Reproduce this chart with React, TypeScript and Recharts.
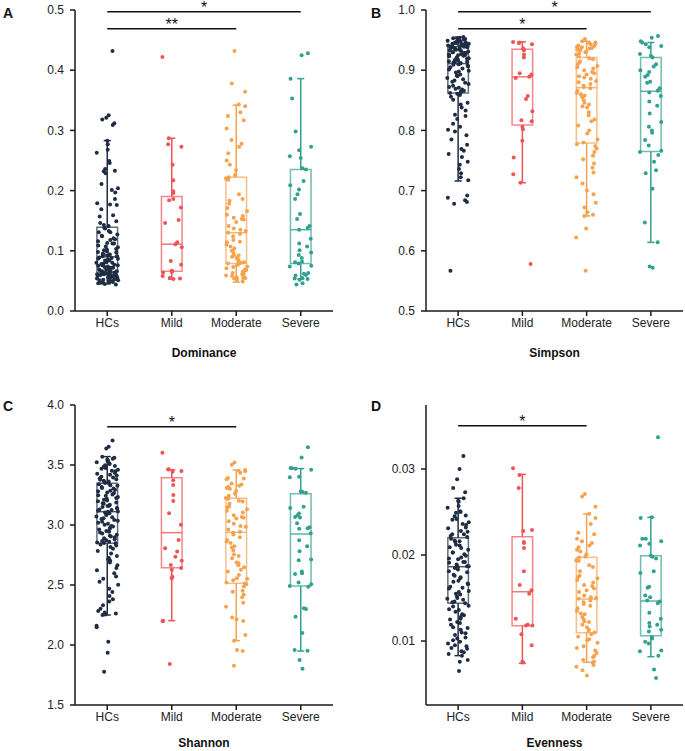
import {
  ComposedChart,
  Scatter,
  XAxis,
  YAxis,
  ReferenceArea,
  ReferenceLine,
} from "recharts";

const GROUPS = ["HCs", "Mild", "Moderate", "Severe"];
const COLORS = ["#1F2D44", "#EF5456", "#F7A24F", "#33A190"];
const AXIS = "#1a1a1a";
const FONT = "'Liberation Sans', Arial, sans-serif";

// Dominance
const domHCs = [0.432, 0.325, 0.321, 0.318, 0.312, 0.309, 0.283, 0.277, 0.268, 0.263, 0.249, 0.246, 0.236, 0.233, 0.232, 0.229, 0.211, 0.204, 0.201, 0.197, 0.186, 0.179, 0.177, 0.176, 0.169, 0.159, 0.157, 0.149, 0.146, 0.143, 0.141, 0.138, 0.137, 0.133, 0.131, 0.131, 0.127, 0.125, 0.124, 0.121, 0.119, 0.118, 0.116, 0.113, 0.112, 0.112, 0.109, 0.107, 0.106, 0.103, 0.102, 0.101, 0.099, 0.098, 0.097, 0.095, 0.094, 0.094, 0.093, 0.092, 0.091, 0.091, 0.090, 0.089, 0.088, 0.087, 0.087, 0.086, 0.084, 0.084, 0.083, 0.081, 0.080, 0.080, 0.079, 0.078, 0.077, 0.076, 0.076, 0.075, 0.074, 0.073, 0.072, 0.072, 0.071, 0.070, 0.069, 0.069, 0.068, 0.067, 0.066, 0.066, 0.065, 0.065, 0.064, 0.064, 0.063, 0.063, 0.062, 0.062, 0.061, 0.061, 0.060, 0.060, 0.059, 0.059, 0.058, 0.058, 0.057, 0.057, 0.056, 0.056, 0.056, 0.055, 0.055, 0.054, 0.054, 0.053, 0.053, 0.052, 0.051, 0.051, 0.050, 0.050, 0.049, 0.048, 0.048, 0.047, 0.047, 0.046, 0.045, 0.044];
const domMild = [0.422, 0.287, 0.277, 0.273, 0.243, 0.217, 0.199, 0.196, 0.186, 0.184, 0.172, 0.151, 0.146, 0.114, 0.111, 0.106, 0.083, 0.077, 0.067, 0.066, 0.065, 0.064, 0.058, 0.055, 0.054, 0.053];
const domModerate = [0.432, 0.378, 0.364, 0.343, 0.340, 0.330, 0.324, 0.317, 0.303, 0.284, 0.278, 0.273, 0.262, 0.250, 0.243, 0.234, 0.226, 0.222, 0.220, 0.218, 0.194, 0.186, 0.183, 0.178, 0.171, 0.166, 0.160, 0.158, 0.155, 0.153, 0.152, 0.148, 0.141, 0.137, 0.135, 0.133, 0.130, 0.128, 0.124, 0.118, 0.115, 0.114, 0.110, 0.107, 0.104, 0.100, 0.097, 0.093, 0.092, 0.090, 0.088, 0.085, 0.083, 0.081, 0.080, 0.079, 0.078, 0.076, 0.074, 0.073, 0.071, 0.069, 0.068, 0.066, 0.065, 0.063, 0.062, 0.061, 0.060, 0.059, 0.058, 0.056, 0.055, 0.055, 0.054, 0.052, 0.049];
const domSevere = [0.428, 0.425, 0.386, 0.353, 0.298, 0.273, 0.267, 0.257, 0.254, 0.237, 0.235, 0.216, 0.209, 0.202, 0.194, 0.186, 0.161, 0.153, 0.141, 0.138, 0.135, 0.120, 0.112, 0.107, 0.101, 0.097, 0.093, 0.088, 0.082, 0.081, 0.079, 0.075, 0.074, 0.063, 0.062, 0.060, 0.059, 0.055, 0.054, 0.053, 0.052, 0.046, 0.044];
// [low whisker, q1, median, q3, high whisker]
const domBox = [
  [0.045, 0.063, 0.090, 0.139, 0.283],
  [0.053, 0.066, 0.111, 0.190, 0.287],
  [0.048, 0.079, 0.130, 0.222, 0.342],
  [0.053, 0.079, 0.135, 0.235, 0.386],
];

// Simpson
const simHCs = [0.955, 0.954, 0.953, 0.953, 0.952, 0.951, 0.951, 0.950, 0.949, 0.949, 0.948, 0.947, 0.947, 0.946, 0.945, 0.945, 0.944, 0.944, 0.943, 0.942, 0.942, 0.941, 0.941, 0.940, 0.940, 0.939, 0.939, 0.938, 0.937, 0.937, 0.936, 0.935, 0.934, 0.934, 0.933, 0.932, 0.931, 0.930, 0.930, 0.929, 0.928, 0.927, 0.926, 0.925, 0.925, 0.924, 0.923, 0.921, 0.920, 0.919, 0.918, 0.917, 0.916, 0.915, 0.914, 0.913, 0.913, 0.912, 0.911, 0.910, 0.909, 0.908, 0.906, 0.905, 0.903, 0.901, 0.899, 0.898, 0.896, 0.893, 0.891, 0.890, 0.887, 0.885, 0.883, 0.881, 0.879, 0.877, 0.874, 0.872, 0.871, 0.869, 0.868, 0.866, 0.864, 0.863, 0.862, 0.861, 0.859, 0.856, 0.851, 0.846, 0.843, 0.838, 0.833, 0.826, 0.824, 0.819, 0.811, 0.806, 0.801, 0.798, 0.792, 0.785, 0.776, 0.769, 0.766, 0.761, 0.756, 0.748, 0.743, 0.736, 0.729, 0.722, 0.717, 0.692, 0.688, 0.684, 0.681, 0.678, 0.567];
const simMild = [0.947, 0.946, 0.945, 0.943, 0.936, 0.934, 0.933, 0.926, 0.921, 0.895, 0.893, 0.889, 0.887, 0.857, 0.852, 0.832, 0.817, 0.815, 0.806, 0.802, 0.783, 0.755, 0.727, 0.713, 0.578];
const simModerate = [0.952, 0.948, 0.946, 0.945, 0.944, 0.943, 0.941, 0.940, 0.939, 0.938, 0.937, 0.936, 0.935, 0.934, 0.933, 0.931, 0.930, 0.928, 0.926, 0.923, 0.920, 0.918, 0.915, 0.913, 0.910, 0.907, 0.905, 0.903, 0.900, 0.897, 0.895, 0.893, 0.890, 0.888, 0.886, 0.882, 0.880, 0.877, 0.874, 0.872, 0.870, 0.866, 0.862, 0.860, 0.858, 0.855, 0.850, 0.846, 0.843, 0.840, 0.838, 0.830, 0.825, 0.818, 0.815, 0.808, 0.800, 0.795, 0.785, 0.780, 0.777, 0.774, 0.770, 0.764, 0.758, 0.752, 0.745, 0.738, 0.730, 0.722, 0.712, 0.700, 0.694, 0.680, 0.672, 0.664, 0.660, 0.658, 0.637, 0.622, 0.567];
const simSevere = [0.957, 0.954, 0.948, 0.946, 0.943, 0.940, 0.938, 0.927, 0.924, 0.921, 0.910, 0.906, 0.900, 0.897, 0.892, 0.889, 0.881, 0.879, 0.870, 0.866, 0.863, 0.857, 0.848, 0.841, 0.828, 0.814, 0.806, 0.800, 0.796, 0.784, 0.775, 0.766, 0.764, 0.759, 0.748, 0.734, 0.729, 0.703, 0.647, 0.614, 0.574, 0.572];
const simBox = [
  [0.716, 0.862, 0.911, 0.939, 0.955],
  [0.713, 0.809, 0.889, 0.935, 0.947],
  [0.658, 0.779, 0.871, 0.921, 0.948],
  [0.614, 0.765, 0.865, 0.921, 0.946],
];

// Shannon
const shaHCs = [3.704, 3.652, 3.637, 3.568, 3.561, 3.552, 3.546, 3.537, 3.531, 3.522, 3.514, 3.509, 3.497, 3.491, 3.486, 3.474, 3.468, 3.461, 3.452, 3.447, 3.433, 3.428, 3.419, 3.413, 3.402, 3.396, 3.388, 3.381, 3.377, 3.369, 3.362, 3.358, 3.351, 3.348, 3.339, 3.331, 3.327, 3.316, 3.309, 3.304, 3.293, 3.286, 3.281, 3.271, 3.266, 3.255, 3.248, 3.243, 3.233, 3.226, 3.219, 3.211, 3.204, 3.197, 3.188, 3.181, 3.177, 3.169, 3.161, 3.158, 3.149, 3.142, 3.137, 3.129, 3.124, 3.118, 3.113, 3.111, 3.104, 3.097, 3.091, 3.083, 3.071, 3.064, 3.057, 3.049, 3.041, 3.036, 3.027, 3.018, 3.011, 3.003, 2.992, 2.987, 2.976, 2.969, 2.963, 2.951, 2.944, 2.937, 2.929, 2.918, 2.911, 2.904, 2.897, 2.889, 2.881, 2.873, 2.866, 2.861, 2.855, 2.851, 2.847, 2.838, 2.829, 2.817, 2.802, 2.784, 2.763, 2.742, 2.726, 2.714, 2.703, 2.688, 2.664, 2.641, 2.622, 2.598, 2.571, 2.553, 2.527, 2.503, 2.468, 2.441, 2.409, 2.382, 2.363, 2.331, 2.302, 2.284, 2.271, 2.262, 2.255, 2.249, 2.161, 2.148, 2.028, 1.936, 1.778];
const shaMild = [3.603, 3.464, 3.462, 3.451, 3.444, 3.372, 3.333, 3.251, 3.201, 3.097, 3.002, 2.874, 2.806, 2.779, 2.736, 2.702, 2.667, 2.641, 2.628, 2.569, 2.556, 2.203, 2.198, 1.842];
const shaModerate = [3.521, 3.503, 3.458, 3.452, 3.447, 3.436, 3.392, 3.388, 3.381, 3.346, 3.338, 3.327, 3.318, 3.309, 3.302, 3.283, 3.261, 3.243, 3.226, 3.219, 3.203, 3.195, 3.178, 3.154, 3.147, 3.132, 3.118, 3.105, 3.081, 3.066, 3.061, 3.054, 3.032, 3.011, 2.991, 2.986, 2.962, 2.944, 2.936, 2.921, 2.897, 2.876, 2.862, 2.851, 2.823, 2.812, 2.787, 2.754, 2.741, 2.722, 2.687, 2.681, 2.664, 2.648, 2.627, 2.612, 2.583, 2.557, 2.552, 2.539, 2.521, 2.513, 2.506, 2.487, 2.452, 2.443, 2.418, 2.398, 2.352, 2.318, 2.229, 2.214, 2.201, 2.083, 2.036, 1.958, 1.949, 1.828];
const shaSevere = [3.647, 3.562, 3.474, 3.472, 3.468, 3.461, 3.403, 3.398, 3.281, 3.276, 3.268, 3.152, 3.141, 3.096, 3.082, 3.066, 3.062, 3.014, 2.981, 2.972, 2.968, 2.931, 2.872, 2.823, 2.781, 2.712, 2.706, 2.612, 2.598, 2.592, 2.521, 2.506, 2.492, 2.486, 2.306, 2.301, 2.236, 2.101, 1.958, 1.952, 1.875, 1.803];
const shaBox = [
  [2.25, 2.847, 3.111, 3.347, 3.57],
  [2.203, 2.644, 2.936, 3.394, 3.46],
  [2.036, 2.514, 2.939, 3.222, 3.458],
  [1.95, 2.492, 2.925, 3.261, 3.47],
];

// Evenness
const evenHCs = [0.0315, 0.0300, 0.0288, 0.0278, 0.0273, 0.0266, 0.0263, 0.0262, 0.0257, 0.0255, 0.0251, 0.0250, 0.0249, 0.0246, 0.0245, 0.0242, 0.0241, 0.0238, 0.0236, 0.0235, 0.0232, 0.0231, 0.0228, 0.0227, 0.0224, 0.0224, 0.0222, 0.0221, 0.0219, 0.0217, 0.0216, 0.0215, 0.0212, 0.0211, 0.0209, 0.0208, 0.0206, 0.0203, 0.0203, 0.0201, 0.0199, 0.0197, 0.0196, 0.0195, 0.0192, 0.0192, 0.0191, 0.0189, 0.0187, 0.0187, 0.0186, 0.0185, 0.0183, 0.0181, 0.0180, 0.0177, 0.0176, 0.0174, 0.0173, 0.0170, 0.0169, 0.0167, 0.0166, 0.0163, 0.0162, 0.0161, 0.0158, 0.0157, 0.0155, 0.0154, 0.0152, 0.0150, 0.0149, 0.0148, 0.0146, 0.0145, 0.0144, 0.0141, 0.0140, 0.0137, 0.0136, 0.0134, 0.0131, 0.0130, 0.0128, 0.0126, 0.0125, 0.0122, 0.0121, 0.0119, 0.0116, 0.0115, 0.0113, 0.0110, 0.0109, 0.0107, 0.0104, 0.0103, 0.0101, 0.0099, 0.0097, 0.0095, 0.0094, 0.0092, 0.0091, 0.0088, 0.0087, 0.0085, 0.0083, 0.0078, 0.0076, 0.0065];
const evenMild = [0.0301, 0.0293, 0.0278, 0.0229, 0.0228, 0.0215, 0.0214, 0.0208, 0.0181, 0.0165, 0.0159, 0.0155, 0.0126, 0.0119, 0.0118, 0.0118, 0.0108, 0.0095, 0.0076, 0.0075];
const evenModerate = [0.0271, 0.0268, 0.0256, 0.0248, 0.0243, 0.0236, 0.0226, 0.0224, 0.0219, 0.0216, 0.0214, 0.0211, 0.0209, 0.0206, 0.0204, 0.0201, 0.0198, 0.0197, 0.0194, 0.0193, 0.0188, 0.0186, 0.0181, 0.0176, 0.0174, 0.0173, 0.0171, 0.0168, 0.0165, 0.0164, 0.0161, 0.0159, 0.0157, 0.0153, 0.0151, 0.0150, 0.0149, 0.0147, 0.0145, 0.0143, 0.0141, 0.0138, 0.0135, 0.0132, 0.0131, 0.0128, 0.0125, 0.0123, 0.0122, 0.0119, 0.0116, 0.0113, 0.0112, 0.0110, 0.0108, 0.0105, 0.0102, 0.0101, 0.0098, 0.0094, 0.0092, 0.0089, 0.0086, 0.0083, 0.0081, 0.0078, 0.0076, 0.0075, 0.0072, 0.0070, 0.0066, 0.0060];
const evenSevere = [0.0337, 0.0244, 0.0243, 0.0219, 0.0219, 0.0216, 0.0213, 0.0211, 0.0199, 0.0198, 0.0196, 0.0181, 0.0179, 0.0163, 0.0162, 0.0153, 0.0151, 0.0147, 0.0146, 0.0144, 0.0133, 0.0126, 0.0121, 0.0119, 0.0117, 0.0113, 0.0111, 0.0104, 0.0103, 0.0099, 0.0097, 0.0089, 0.0088, 0.0083, 0.0067, 0.0057];
const evenBox = [
  [0.0083, 0.01438, 0.01864, 0.0220, 0.0266],
  [0.0074, 0.01178, 0.01573, 0.02213, 0.02938],
  [0.00752, 0.01097, 0.01488, 0.01973, 0.02477],
  [0.00818, 0.01062, 0.01465, 0.01992, 0.02438],
];

type Sig = { from: number; to: number; y: number; label: string };

// horizontal spread for the dots (position only, not a value)
const jitter = (i: number, g: number) => {
  const h = Math.sin((i + 1) * 12.9898 + (g + 1) * 78.233) * 43758.5453;
  return (h - Math.floor(h) - 0.5) * 0.34;
};

function Panel(props: {
  title: string;
  groups: number[][];
  boxes: number[][];
  domain: [number, number];
  ticks: number[];
  digits: number;
  sigs: Sig[];
  width: number;
  height: number;
  yWidth: number;
  titleOffset: number;
  margin: { top: number; right: number; bottom: number; left: number };
}) {
  const { title, groups, boxes, domain, ticks, digits, sigs } = props;
  const hw = 0.16;
  const cap = 0.055;
  return (
    <ComposedChart width={props.width} height={props.height} margin={props.margin}>
      <XAxis
        type="number"
        dataKey="x"
        domain={[0.5, 4.5]}
        ticks={[1, 2, 3, 4]}
        tickFormatter={(v: number) => GROUPS[v - 1]}
        stroke={AXIS}
        strokeWidth={1.5}
        tickSize={5}
        tick={{ fontSize: 12, fill: "#222" }}
        height={50}
        label={{ value: title, position: "insideBottom", offset: props.titleOffset, fontSize: 12, fontWeight: 700, fill: "#111" }}
      />
      <YAxis
        type="number"
        dataKey="y"
        domain={domain}
        ticks={ticks}
        allowDataOverflow
        tickFormatter={(v: number) => v.toFixed(digits)}
        stroke={AXIS}
        strokeWidth={1.5}
        tickSize={5}
        tickMargin={6}
        tick={{ fontSize: 12, fill: "#222" }}
        width={props.yWidth}
      />
      {boxes.map((b, g) => {
        const c = g + 1;
        const col = COLORS[g];
        return [
          <ReferenceLine key={`wl${g}`} segment={[{ x: c, y: b[0] }, { x: c, y: b[1] }]} stroke={col} strokeWidth={1.5} />,
          <ReferenceLine key={`wh${g}`} segment={[{ x: c, y: b[3] }, { x: c, y: b[4] }]} stroke={col} strokeWidth={1.5} />,
          <ReferenceLine key={`cl${g}`} segment={[{ x: c - cap, y: b[0] }, { x: c + cap, y: b[0] }]} stroke={col} strokeWidth={1.5} />,
          <ReferenceLine key={`ch${g}`} segment={[{ x: c - cap, y: b[4] }, { x: c + cap, y: b[4] }]} stroke={col} strokeWidth={1.5} />,
          <ReferenceArea key={`bx${g}`} x1={c - hw} x2={c + hw} y1={b[1]} y2={b[3]} fill="none" fillOpacity={0} stroke={col} strokeOpacity={0.7} strokeWidth={1.5} />,
          <ReferenceLine key={`md${g}`} segment={[{ x: c - hw, y: b[2] }, { x: c + hw, y: b[2] }]} stroke={col} strokeOpacity={0.8} strokeWidth={1.5} />,
        ];
      })}
      {groups.map((vals, g) => (
        <Scatter
          key={GROUPS[g]}
          name={GROUPS[g]}
          data={vals.map((v, i) => ({ x: g + 1 + jitter(i, g), y: v }))}
          fill={COLORS[g]}
          isAnimationActive={false}
          shape={(p: any) => <circle cx={p.cx} cy={p.cy} r={2} fill={COLORS[g]} />}
        />
      ))}
      {sigs.map((s, k) => (
        <ReferenceLine
          key={`sig${k}`}
          segment={[{ x: s.from, y: s.y }, { x: s.to, y: s.y }]}
          stroke="#111"
          strokeWidth={1.5}
          ifOverflow="visible"
          label={{ value: s.label, position: "top", offset: -1, fontSize: 16, fill: "#111" }}
        />
      ))}
    </ComposedChart>
  );
}

const letterStyle = (left: number, top: number) => ({
  position: "absolute" as const,
  left,
  top,
  fontSize: 14,
  fontWeight: 700,
  color: "#111",
});

export default function App() {
  return (
    <div
      style={{
        position: "absolute",
        left: 0,
        top: 0,
        width: 685,
        height: 751,
        overflow: "hidden",
        background: "#fff",
        fontFamily: FONT,
      }}
    >
      <div style={{ position: "absolute", left: 0, top: 0 }}>
        <Panel
          title="Dominance"
          groups={[domHCs, domMild, domModerate, domSevere]}
          boxes={domBox}
          domain={[0, 0.5]}
          ticks={[0, 0.1, 0.2, 0.3, 0.4, 0.5]}
          digits={1}
          sigs={[
            { from: 1, to: 4, y: 0.497, label: "*" },
            { from: 1, to: 3, y: 0.469, label: "**" },
          ]}
          width={340}
          height={370}
          yWidth={75}
          titleOffset={4}
          margin={{ top: 10, right: 7, bottom: 9, left: 0 }}
        />
      </div>
      <div style={{ position: "absolute", left: 340, top: 0 }}>
        <Panel
          title="Simpson"
          groups={[simHCs, simMild, simModerate, simSevere]}
          boxes={simBox}
          domain={[0.5, 1.0]}
          ticks={[0.5, 0.6, 0.7, 0.8, 0.9, 1.0]}
          digits={1}
          sigs={[
            { from: 1, to: 4, y: 0.997, label: "*" },
            { from: 1, to: 3, y: 0.969, label: "*" },
          ]}
          width={345}
          height={370}
          yWidth={86}
          titleOffset={4}
          margin={{ top: 10, right: 2, bottom: 9, left: 0 }}
        />
      </div>
      <div style={{ position: "absolute", left: 0, top: 370 }}>
        <Panel
          title="Shannon"
          groups={[shaHCs, shaMild, shaModerate, shaSevere]}
          boxes={shaBox}
          domain={[1.5, 4.0]}
          ticks={[1.5, 2.0, 2.5, 3.0, 3.5, 4.0]}
          digits={1}
          sigs={[{ from: 1, to: 3, y: 3.819, label: "*" }]}
          width={340}
          height={395}
          yWidth={75}
          titleOffset={8}
          margin={{ top: 35, right: 7, bottom: 10, left: 0 }}
        />
      </div>
      <div style={{ position: "absolute", left: 340, top: 370 }}>
        <Panel
          title="Evenness"
          groups={[evenHCs, evenMild, evenModerate, evenSevere]}
          boxes={evenBox}
          domain={[0.00256, 0.03744]}
          ticks={[0.01, 0.02, 0.03]}
          digits={2}
          sigs={[{ from: 1, to: 3, y: 0.03503, label: "*" }]}
          width={345}
          height={395}
          yWidth={86}
          titleOffset={8}
          margin={{ top: 35, right: 2, bottom: 10, left: 0 }}
        />
      </div>
      <div style={letterStyle(3, 5)}>A</div>
      <div style={letterStyle(371, 5)}>B</div>
      <div style={letterStyle(3, 398)}>C</div>
      <div style={letterStyle(371, 398)}>D</div>
    </div>
  );
}
